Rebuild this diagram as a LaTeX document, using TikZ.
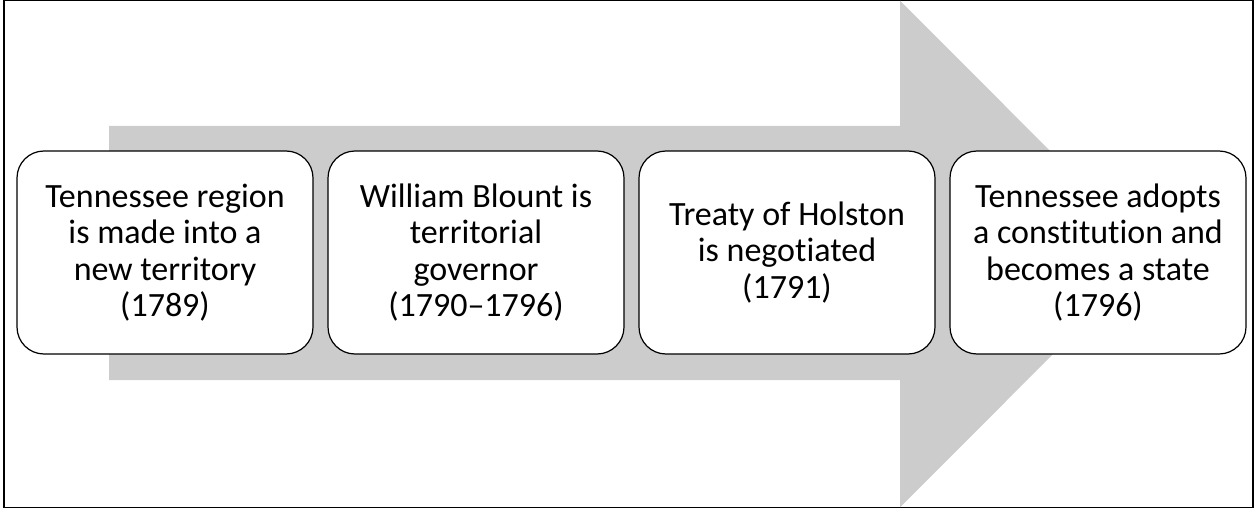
\documentclass[tikz,border=0pt]{standalone}
\usepackage{fontspec}
\setmainfont[Ligatures={NoCommon}]{Carlito}
\begin{document}
\begin{tikzpicture}[x=1pt,y=-1pt,
  stagebox/.style={draw=black, line width=1.2pt, fill=white, rounded corners=27pt,
    minimum width=296pt, minimum height=203pt, align=center, inner sep=0pt,
    font=\fontsize{34}{36.5}\selectfont},
  framebox/.style={draw=black, line width=1.2pt}]
\useasboundingbox (0,0) rectangle (1255,508);
\draw[framebox] (4,0.6) rectangle (1253,507.4);
% big arrow
\fill[fill={rgb,255:red,204;green,204;blue,204}]
  (109,126) -- (900,126) -- (900,0.6) -- (1153,254) -- (900,507.4) -- (900,380) -- (109,380) -- cycle;
\node[stagebox] (s1) at (165,252.5) {Tennessee region\\is made into a\\new territory\\(1789)};
\node[stagebox] (s2) at (476,252.5) {William Blount is\\territorial\\governor\\(1790–1796)};
\node[stagebox] (s3) at (787,252.5) {Treaty of Holston\\is negotiated\\(1791)};
\node[stagebox] (s4) at (1098,252.5) {Tennessee adopts\\a constitution and\\becomes a state\\(1796)};
\end{tikzpicture}
\end{document}
